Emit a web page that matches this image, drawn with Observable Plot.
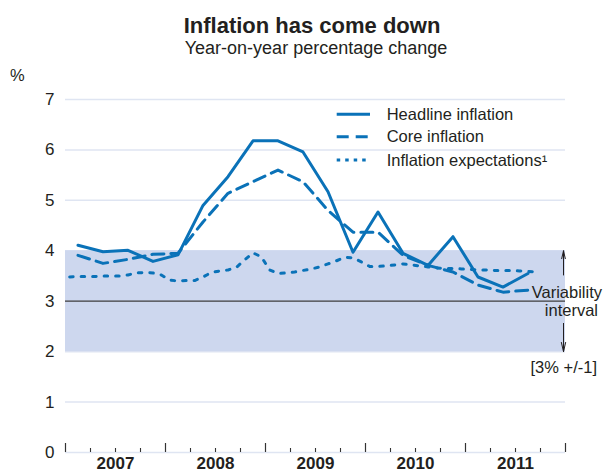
<!DOCTYPE html>
<html><head><meta charset="utf-8">
<script src="https://cdn.jsdelivr.net/npm/d3@7"></script>
<script src="https://cdn.jsdelivr.net/npm/@observablehq/plot@0.6"></script>
<style>
body{margin:0;background:#fff;font-family:"Liberation Sans",Arial,sans-serif;color:#231f20}
#wrap{position:relative;width:604px;height:473px;overflow:hidden}
.abs{position:absolute;white-space:nowrap;line-height:1}
#chart{position:absolute;left:0;top:60px}
</style></head><body>
<div id="wrap">
  <div class="abs" style="left:0;width:624px;text-align:center;top:14.7px;font-size:22px;font-weight:bold">Inflation has come down</div>
  <div class="abs" style="left:0;width:632px;text-align:center;top:39px;font-size:18px">Year-on-year percentage change</div>
  <div class="abs" style="left:10px;top:67px;font-size:16.5px">%</div>
  <div id="chart"></div>
  <svg id="legend" width="604" height="473" style="position:absolute;left:0;top:0;pointer-events:none"></svg>
  <div class="abs" style="right:2px;top:284px;font-size:16.5px">Variability</div>
  <div class="abs" style="right:6px;top:302px;font-size:16.5px">interval</div>
  <div class="abs" style="right:7px;top:359px;font-size:16.5px">[3% +/-1]</div>
</div>
<script>
const years = [2007, 2008, 2009, 2010, 2011];
const yearLabels = ["2007", "2008", "2009", "2010", "2011"];
const yTicks = [0, 1, 2, 3, 4, 5, 6, 7];
const quarters = ["2007Q1","2007Q2","2007Q3","2007Q4","2008Q1","2008Q2","2008Q3","2008Q4",
  "2009Q1","2009Q2","2009Q3","2009Q4","2010Q1","2010Q2","2010Q3","2010Q4","2011Q1","2011Q2","2011Q3"];
const headline = [4.11, 3.98, 4.01, 3.79, 3.92, 4.90, 5.47, 6.18, 6.18, 5.96, 5.17, 3.97,
  4.77, 3.95, 3.71, 4.28, 3.48, 3.28, 3.55];
const core = [3.91, 3.75, 3.83, 3.93, 3.95, 4.57, 5.14, 5.37, 5.60, 5.37, 4.80, 4.37,
  4.37, 3.91, 3.71, 3.58, 3.32, 3.18, 3.22];
const expectations = [
  3.48, 3.49, 3.49, 3.49, 3.50, 3.50, 3.50, 3.52, 3.56, 3.57, 3.56, 3.52,
  3.42, 3.40, 3.41, 3.41, 3.48, 3.57, 3.60, 3.62, 3.67, 3.82, 3.96, 3.88,
  3.62, 3.55, 3.56, 3.58, 3.61, 3.64, 3.68, 3.74, 3.80, 3.87, 3.86, 3.78,
  3.69, 3.69, 3.70, 3.72, 3.74, 3.72, 3.70, 3.68, 3.66, 3.65, 3.65, 3.64,
  3.63, 3.62, 3.62, 3.61, 3.61, 3.61, 3.60, 3.59, 3.58];
const seriesNames = ["Headline inflation", "Core inflation", "Inflation expectations\u00b9"];
const bandLow = 2, bandHigh = 4, target = 3;

const blue = "#0a72b8";
const ink = "#231f20";

const months = expectations.map((_, i) => {
  const y = 2007 + Math.floor(i / 12), m = (i % 12) + 1;
  return `${y}-${String(m).padStart(2, "0")}`;
});
const qx = q => +q.slice(0, 4) + (+q.slice(5) - 0.5) / 4;
const mx = m => +m.slice(0, 4) + (+m.slice(5, 7) - 0.5) / 12;
const hData = quarters.map((q, i) => ({x: qx(q), v: headline[i]}));
const cData = quarters.map((q, i) => ({x: qx(q), v: core[i]}));
const eData = months.map((m, i) => ({x: mx(m), v: expectations[i]}));
const xStart = years[0], xEnd = years[years.length - 1] + 1;
const yearEdges = [...years, xEnd];
const minorTicks = years.flatMap(y => [y + 0.25, y + 0.5, y + 0.75]);

const H = 413, mTop = 39, mBottom = 21;
const innerH = H - mTop - mBottom;

const chart = Plot.plot({
  width: 604, height: H,
  marginTop: mTop, marginBottom: mBottom, marginLeft: 65, marginRight: 39,
  x: {domain: [xStart, xEnd], axis: null},
  y: {domain: [0, 7], axis: null},
  style: {fontFamily: "Liberation Sans, Arial, sans-serif", color: ink, background: "transparent"},
  marks: [
    Plot.ruleY(yTicks, {stroke: "#dfe5f2", strokeWidth: 1.5}),
    Plot.rect([{x1: xStart, x2: xEnd, y1: bandLow, y2: bandHigh}], {x1: "x1", x2: "x2", y1: "y1", y2: "y2", fill: "#cdd7ee"}),
    Plot.ruleY([target], {stroke: "#3d3d3d", strokeWidth: 1.3}),
    Plot.axisY(yTicks, {anchor: "left", tickSize: 0, tickPadding: 11, fontSize: 17, label: null, tickFormat: d => String(d)}),
    Plot.axisX(years.map(y => y + 0.5), {anchor: "bottom", tickSize: 0, tickPadding: 4, fontSize: 17, fontWeight: "bold", label: null,
      tickFormat: d => yearLabels[years.indexOf(Math.floor(d))]}),
    Plot.tickX(yearEdges, {x: d => d, insetTop: innerH - 9, stroke: "#333", strokeWidth: 1.2}),
    Plot.tickX(minorTicks, {x: d => d, insetTop: innerH - 4, stroke: "#333", strokeWidth: 1.1}),
    Plot.line(eData, {x: "x", y: "v", stroke: blue, strokeWidth: 3, strokeDasharray: "3.5,8"}),
    Plot.line(cData, {x: "x", y: "v", stroke: blue, strokeWidth: 3, strokeDasharray: "12,7"}),
    Plot.line(hData, {x: "x", y: "v", stroke: blue, strokeWidth: 3}),
    Plot.arrow([{x: xEnd, y1: target + 0.52, y2: bandHigh}, {x: xEnd, y1: target - 0.44, y2: bandLow}],
      {x1: "x", x2: "x", y1: "y1", y2: "y2", dx: -2, stroke: ink, strokeWidth: 1, headLength: 15, headAngle: 26})
  ]
});
document.getElementById("chart").appendChild(chart);

// legend
const leg = d3.select("#legend");
const dashes = [null, "12,7", "3.5,5"];
const rowsY = [114.3, 136.7, 160];
seriesNames.forEach((name, i) => {
  leg.append("line").attr("x1", 336.7).attr("x2", 370).attr("y1", rowsY[i]).attr("y2", rowsY[i])
    .attr("stroke", blue).attr("stroke-width", 3).attr("stroke-dasharray", dashes[i]);
  leg.append("text").attr("x", 386.7).attr("y", rowsY[i]).attr("dy", "0.35em")
    .attr("font-size", 16.5).attr("fill", ink).attr("font-family", "Liberation Sans, Arial, sans-serif").text(name);
});
</script>
</body></html>
